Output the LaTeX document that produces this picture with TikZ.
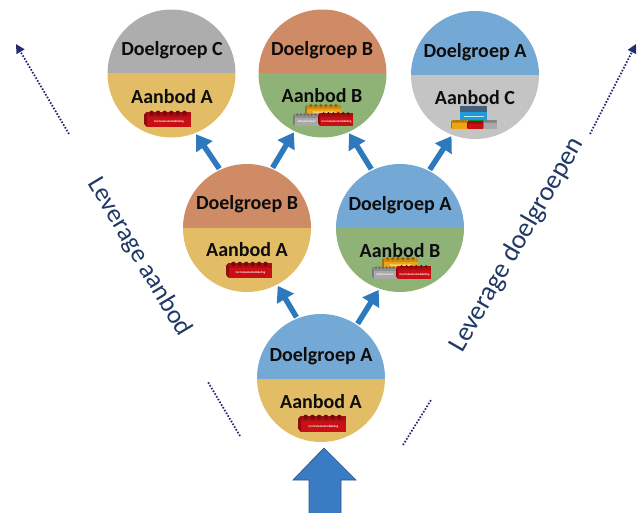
\documentclass[tikz,border=0pt]{standalone}
\usepackage{fontspec}
\setmainfont{Carlito}
\usetikzlibrary{arrows.meta}
\definecolor{cBlue}{HTML}{75A9D5}
\definecolor{cOrange}{HTML}{CE8B66}
\definecolor{cGrey}{HTML}{ADADAD}
\definecolor{cLight}{HTML}{C4C4C4}
\definecolor{cYellow}{HTML}{E3BD66}
\definecolor{cGreen}{HTML}{8FB277}
\definecolor{cArrow}{HTML}{2E79BE}
\definecolor{cBig}{HTML}{3A7CC4}
\definecolor{cDots}{HTML}{262C70}
\definecolor{cLabel}{HTML}{1F3864}
\definecolor{bRed}{HTML}{C90F14}
\definecolor{bYellow}{HTML}{EDA512}
\definecolor{bGray}{HTML}{A9A9A9}
\definecolor{bBlue}{HTML}{1F9BD7}
\definecolor{bGreen}{HTML}{0E8A2E}
\definecolor{bSlate}{HTML}{44607A}
\tikzset{
  anchorcircle/.style={circle,minimum size=128pt,inner sep=0pt,outer sep=1.5pt},
  circletext/.style={font=\fontsize{20}{20}\selectfont\bfseries,text=black!95,inner sep=0pt},
  flow/.style={draw=cArrow,line width=5.5pt,-{Triangle[length=15pt,width=19pt]}},
  dots/.style={draw=cDots,line width=1.8pt,dash pattern=on 1.6pt off 1.6pt},
  dotsarrow/.style={dots,-{Triangle[length=9pt,width=9pt,fill=cDots,sep=0pt]}},
  leverl/.style={font=\fontsize{26}{26}\selectfont,text=cLabel,inner sep=0pt},
  leverr/.style={font=\fontsize{27}{27}\selectfont,text=cLabel,inner sep=0pt},
  bricktext/.style={font=\fontsize{3}{3}\selectfont\bfseries,text=white,inner sep=0pt}
}
% left, top, width, height, colour, label, name
\newcommand{\legobrick}[7]{%
  \pgfmathsetmacro{\bx}{#1}\pgfmathsetmacro{\by}{#2}\pgfmathsetmacro{\bw}{#3}\pgfmathsetmacro{\bh}{#4}
  \fill[#5!70!black] (\bx,\by+0.22*\bh) -- (\bx+0.06*\bw,\by+0.05*\bh) -- (\bx+0.06*\bw,\by+\bh) -- (\bx,\by+0.8*\bh) -- cycle;
  \fill[#5!85!black] (\bx+0.06*\bw,\by+0.05*\bh) rectangle (\bx+\bw,\by+0.35*\bh);
  \foreach \i in {0.16,0.30,0.44,0.58,0.72,0.86}
    \fill[#5!60!black] (\bx+\i*\bw,\by+0.12*\bh) circle (0.05*\bw);
  \fill[#5] (\bx+0.06*\bw,\by+0.35*\bh) rectangle (\bx+\bw,\by+\bh);
  \node[bricktext] (#7) at (\bx+0.53*\bw,\by+0.67*\bh) {#6};
}
\begin{document}
\begin{tikzpicture}[x=1pt,y=-1pt]
\useasboundingbox (0,0) rectangle (642,512);
% circles
\begin{scope}
 \clip (171.5,73.5) circle (64);
 \fill[cGrey] (100,0) rectangle (240,73);
 \fill[cYellow] (100,73) rectangle (240,140);
\end{scope}
\begin{scope}
 \clip (322.5,73.5) circle (64);
 \fill[cOrange] (250,0) rectangle (390,73);
 \fill[cGreen] (250,73) rectangle (390,140);
\end{scope}
\begin{scope}
 \clip (475,75) circle (64);
 \fill[cBlue] (405,0) rectangle (545,75);
 \fill[cLight] (405,75) rectangle (545,140);
\end{scope}
\begin{scope}
 \clip (247,228) circle (64);
 \fill[cOrange] (180,160) rectangle (315,228);
 \fill[cYellow] (180,228) rectangle (315,295);
\end{scope}
\begin{scope}
 \clip (400,228) circle (64);
 \fill[cBlue] (335,160) rectangle (470,228);
 \fill[cGreen] (335,228) rectangle (470,295);
\end{scope}
\begin{scope}
 \clip (321,378) circle (64);
 \fill[cBlue] (255,310) rectangle (390,379);
 \fill[cYellow] (255,379) rectangle (390,445);
\end{scope}
\node[anchorcircle] (c) at (171.5,73.5) {};
\node[anchorcircle] (b) at (322.5,73.5) {};
\node[anchorcircle] (a) at (475,75) {};
\node[anchorcircle] (ml) at (247,228) {};
\node[anchorcircle] (mr) at (400,228) {};
\node[anchorcircle] (base) at (321,378) {};
% texts
\node[circletext] (t1) at (172,50.5) {Doelgroep C};
\node[circletext] (t2) at (172,96.5) {Aanbod A};
\node[circletext] (t3) at (322,50.5) {Doelgroep B};
\node[circletext] (t4) at (322,95.5) {Aanbod B};
\node[circletext] (t5) at (475,52.5) {Doelgroep A};
\node[circletext] (t6) at (475,97.5) {Aanbod C};
\node[circletext] (t7) at (247,204.5) {Doelgroep B};
\node[circletext] (t8) at (247,249.5) {Aanbod A};
\node[circletext] (t9) at (400,205.5) {Doelgroep A};
\node[circletext] (t10) at (400,250.5) {Aanbod B};
\node[circletext] (t11) at (321,356.5) {Doelgroep A};
\node[circletext] (t12) at (321,401.5) {Aanbod A};
% bricks
\legobrick{144}{111}{47}{16}{bRed}{Curriculumontwikkeling}{k1}
\legobrick{226}{262}{46}{16}{bRed}{Curriculumontwikkeling}{k2}
\legobrick{298}{415}{48}{17}{bRed}{Curriculumontwikkeling}{k3}
\legobrick{305}{104}{36}{13}{bYellow}{Toetsontwikkeling}{k4}
\legobrick{293}{113}{26}{13}{bGray}{Infrastructuur}{k5}
\legobrick{318}{112}{35}{14}{bRed}{Curriculumontwikkeling}{k6}
\legobrick{382}{257}{36}{13}{bYellow}{Toetsontwikkeling}{k7}
\legobrick{372}{266}{25}{13}{bGray}{Infrastructuur}{k8}
\legobrick{396}{265}{35}{14}{bRed}{Curriculumontwikkeling}{k9}
\fill[bSlate] (460,106) rectangle (487,112);
\fill[bBlue] (460,112) rectangle (487,120);
\fill[bGreen] (462,120) rectangle (488,125);
\draw[white!75!bBlue,line width=0.8pt] (464,116) -- (484,116);
\legobrick{451}{120}{17}{9}{bYellow}{}{k10}
\legobrick{467}{121}{16}{8}{bRed}{}{k11}
\legobrick{483}{120}{14}{9}{bGray}{}{k12}
% flow connectors
\draw[flow] (base.112) -- (ml.-62);
\draw[flow] (base.56) -- (mr.-109);
\draw[flow] (ml.115) -- (c.-68);
\draw[flow] (ml.67) -- (b.-116);
\draw[flow] (mr.116) -- (b.-66);
\draw[flow] (mr.63) -- (a.-111);
% big arrow
\draw[fill=cBig,draw=cBig!70!black,line width=0.7pt] (309,514) -- (309,480) -- (293,480) -- (324,448) -- (356,480) -- (341,480) -- (341,514);
% dotted guides
\coordinate (g1a) at (69,134);
\coordinate (g1b) at (16,44);
\coordinate (g2a) at (590,134);
\coordinate (g2b) at (636,44);
\coordinate (g3a) at (240,436);
\coordinate (g3b) at (208,382);
\coordinate (g4a) at (403,445);
\coordinate (g4b) at (431,400);
\draw[dotsarrow] (g1a) -- (g1b);
\draw[dotsarrow] (g2a) -- (g2b);
\draw[dots] (g3a) -- (g3b);
\draw[dots] (g4a) -- (g4b);
% side labels
\node[leverl,rotate=-59] (la) at (139.5,257) {Leverage aanbod};
\node[leverr,rotate=60] (ld) at (517,245) {Leverage doelgroepen};
\end{tikzpicture}
\end{document}
